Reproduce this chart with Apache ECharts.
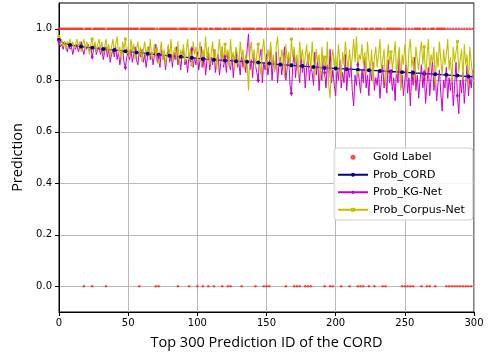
<!DOCTYPE html>
<html>
<head>
<meta charset="utf-8">
<script src="https://cdn.jsdelivr.net/npm/echarts@6/dist/echarts.min.js"></script>
<style>
  html, body { margin: 0; padding: 0; background: #fff; }
  #myChart { width: 489px; height: 355px; }
</style>
</head>
<body>
<div id="myChart"></div>
<script>
// indices (0..299) whose gold label is 0, all others are 1
var goldZeroIds = [18, 24, 34, 58, 70, 72, 86, 94, 100, 104, 108, 112, 118, 122, 124, 132, 142, 148,
  150, 152, 164, 170, 172, 174, 178, 180, 182, 192, 196, 198, 204, 210, 216, 218, 220, 224, 228,
  234, 236, 248, 250, 252, 254, 256, 262, 266, 268, 272, 280, 282, 284, 286, 288, 290, 292, 294, 296, 298];

var probCord = [
  0.957,0.952,0.948,0.945,0.943,0.941,0.940,0.938,0.937,0.936,
  0.935,0.935,0.934,0.933,0.932,0.932,0.931,0.930,0.930,0.929,
  0.928,0.928,0.927,0.927,0.926,0.925,0.925,0.924,0.923,0.923,
  0.922,0.922,0.921,0.921,0.920,0.919,0.919,0.918,0.918,0.917,
  0.917,0.916,0.916,0.915,0.915,0.914,0.914,0.913,0.913,0.912,
  0.912,0.911,0.911,0.910,0.909,0.909,0.908,0.908,0.907,0.907,
  0.906,0.905,0.905,0.904,0.903,0.903,0.902,0.902,0.901,0.900,
  0.900,0.899,0.899,0.898,0.898,0.897,0.897,0.896,0.896,0.895,
  0.895,0.894,0.894,0.893,0.893,0.892,0.892,0.891,0.891,0.890,
  0.890,0.889,0.889,0.888,0.888,0.887,0.887,0.886,0.886,0.885,
  0.885,0.885,0.884,0.884,0.883,0.883,0.882,0.882,0.882,0.881,
  0.881,0.880,0.880,0.880,0.879,0.879,0.878,0.878,0.878,0.877,
  0.877,0.877,0.876,0.876,0.876,0.875,0.875,0.875,0.874,0.874,
  0.874,0.873,0.873,0.873,0.872,0.872,0.872,0.871,0.871,0.871,
  0.871,0.870,0.870,0.869,0.869,0.868,0.868,0.867,0.867,0.866,
  0.866,0.866,0.865,0.865,0.864,0.864,0.863,0.863,0.862,0.862,
  0.861,0.861,0.860,0.860,0.859,0.859,0.859,0.858,0.858,0.857,
  0.857,0.857,0.856,0.856,0.855,0.855,0.855,0.854,0.854,0.853,
  0.853,0.853,0.852,0.852,0.851,0.851,0.851,0.850,0.850,0.849,
  0.849,0.849,0.848,0.848,0.848,0.847,0.847,0.847,0.846,0.846,
  0.846,0.846,0.845,0.845,0.845,0.844,0.844,0.844,0.843,0.843,
  0.843,0.843,0.842,0.842,0.842,0.841,0.841,0.841,0.840,0.840,
  0.840,0.840,0.839,0.839,0.839,0.838,0.838,0.838,0.837,0.837,
  0.837,0.837,0.836,0.836,0.836,0.835,0.835,0.835,0.834,0.834,
  0.834,0.834,0.833,0.833,0.833,0.832,0.832,0.832,0.831,0.831,
  0.831,0.831,0.830,0.830,0.830,0.829,0.829,0.829,0.828,0.828,
  0.828,0.827,0.827,0.827,0.826,0.826,0.825,0.825,0.825,0.824,
  0.824,0.824,0.823,0.823,0.823,0.822,0.822,0.822,0.821,0.821,
  0.821,0.820,0.820,0.820,0.819,0.819,0.818,0.818,0.818,0.817,
  0.817,0.817,0.816,0.816,0.815,0.815,0.815,0.814,0.814,0.813
];

var probKgNet = [
  0.95,0.93,0.94,0.92,0.95,0.93,0.91,0.94,0.92,0.93,
  0.90,0.93,0.92,0.94,0.91,0.93,0.95,0.92,0.90,0.93,
  0.92,0.94,0.91,0.93,0.89,0.92,0.94,0.90,0.92,0.93,
  0.90,0.92,0.88,0.91,0.93,0.89,0.92,0.87,0.90,0.92,
  0.89,0.93,0.88,0.91,0.86,0.90,0.92,0.87,0.85,0.89,
  0.91,0.88,0.92,0.87,0.90,0.93,0.88,0.86,0.91,0.89,
  0.92,0.87,0.90,0.85,0.89,0.93,0.88,0.91,0.86,0.90,
  0.94,0.87,0.89,0.85,0.92,0.88,0.90,0.84,0.89,0.93,
  0.87,0.90,0.85,0.91,0.88,0.93,0.86,0.89,0.84,0.90,
  0.92,0.86,0.88,0.83,0.90,0.87,0.92,0.85,0.89,0.86,
  0.91,0.84,0.88,0.93,0.85,0.90,0.82,0.88,0.91,0.84,
  0.89,0.86,0.92,0.83,0.88,0.90,0.82,0.87,0.93,0.85,
  0.89,0.83,0.91,0.86,0.84,0.90,0.81,0.88,0.92,0.85,
  0.87,0.82,0.90,0.85,0.88,0.83,0.92,0.98,0.84,0.88,
  0.81,0.90,0.86,0.83,0.80,0.89,0.92,0.79,0.87,0.84,
  0.90,0.82,0.86,0.93,0.80,0.88,0.84,0.91,0.79,0.86,
  0.89,0.82,0.87,0.93,0.80,0.85,0.90,0.78,0.75,0.86,
  0.91,0.81,0.88,0.84,0.79,0.90,0.83,0.87,0.77,0.85,
  0.90,0.80,0.86,0.83,0.78,0.91,0.82,0.88,0.76,0.85,
  0.80,0.89,0.83,0.77,0.86,0.81,0.92,0.79,0.84,0.78,
  0.74,0.85,0.80,0.88,0.77,0.83,0.79,0.90,0.76,0.84,
  0.81,0.87,0.76,0.70,0.82,0.78,0.86,0.80,0.75,0.84,
  0.79,0.89,0.77,0.82,0.74,0.85,0.80,0.87,0.76,0.81,
  0.78,0.84,0.73,0.80,0.86,0.77,0.82,0.75,0.88,0.79,
  0.83,0.76,0.81,0.72,0.85,0.79,0.90,0.77,0.82,0.74,
  0.80,0.86,0.75,0.81,0.70,0.84,0.78,0.89,0.76,0.82,
  0.73,0.80,0.86,0.77,0.83,0.71,0.79,0.85,0.74,0.81,
  0.88,0.76,0.82,0.72,0.79,0.84,0.75,0.68,0.80,0.77,
  0.85,0.73,0.81,0.76,0.83,0.70,0.78,0.87,0.74,0.67,
  0.80,0.75,0.83,0.71,0.79,0.86,0.74,0.81,0.77,0.84
];

var probCorpusNet = [
  0.97,0.94,0.96,0.93,0.95,0.92,0.95,0.94,0.96,0.93,
  0.95,0.92,0.94,0.96,0.93,0.95,0.91,0.94,0.96,0.92,
  0.95,0.93,0.90,0.94,0.96,0.92,0.95,0.91,0.94,0.96,
  0.92,0.95,0.90,0.93,0.96,0.91,0.94,0.89,0.93,0.96,
  0.91,0.94,0.97,0.90,0.93,0.88,0.95,0.92,0.96,0.90,
  0.93,0.89,0.96,0.91,0.94,0.88,0.92,0.95,0.90,0.93,
  0.87,0.92,0.95,0.89,0.93,0.90,0.96,0.88,0.91,0.94,
  0.89,0.93,0.87,0.91,0.95,0.88,0.92,0.86,0.90,0.94,
  0.89,0.96,0.87,0.91,0.93,0.88,0.95,0.86,0.92,0.89,
  0.94,0.87,0.91,0.96,0.88,0.92,0.86,0.95,0.90,0.93,
  0.87,0.91,0.95,0.85,0.92,0.89,0.97,0.88,0.93,0.86,
  0.90,0.95,0.87,0.92,0.84,0.91,0.96,0.88,0.93,0.86,
  0.94,0.89,0.92,0.85,0.96,0.88,0.91,0.84,0.93,0.90,
  0.86,0.95,0.89,0.92,0.84,0.90,0.87,0.76,0.91,0.95,
  0.88,0.92,0.85,0.90,0.94,0.87,0.82,0.91,0.96,0.89,
  0.84,0.92,0.88,0.95,0.86,0.90,0.83,0.93,0.97,0.88,
  0.85,0.92,0.89,0.81,0.94,0.87,0.91,0.84,0.96,0.89,
  0.93,0.86,0.90,0.82,0.95,0.88,0.92,0.85,0.89,0.94,
  0.86,0.91,0.84,0.95,0.88,0.82,0.92,0.87,0.90,0.80,
  0.93,0.86,0.89,0.84,0.95,0.78,0.73,0.88,0.92,0.85,
  0.90,0.83,0.94,0.87,0.80,0.91,0.86,0.95,0.89,0.84,
  0.92,0.85,0.89,0.96,0.87,0.97,0.83,0.90,0.88,0.94,
  0.86,0.91,0.82,0.95,0.88,0.84,0.92,0.79,0.89,0.93,
  0.85,0.90,0.96,0.83,0.88,0.92,0.78,0.87,0.94,0.86,
  0.91,0.84,0.89,0.95,0.82,0.88,0.93,0.76,0.90,0.86,
  0.94,0.87,0.81,0.92,0.96,0.85,0.89,0.79,0.93,0.88,
  0.84,0.91,0.95,0.86,0.93,0.80,0.89,0.96,0.83,0.90,
  0.87,0.93,0.78,0.91,0.85,0.95,0.88,0.82,0.92,0.86,
  0.90,0.96,0.84,0.89,0.79,0.93,0.87,0.91,0.95,0.83,
  0.88,0.92,0.80,0.94,0.86,0.90,0.78,0.93,0.87,0.82
];

var yTicks = [0.0, 0.2, 0.4, 0.6, 0.8, 1.0];

var tickFont = 'DejaVu Sans';
var gridColor = '#b8b8b8';

function toPoints(arr) {
  return arr.map(function (v, i) { return [i, v]; });
}
var goldPoints = probCord.map(function (v, i) {
  return [i, goldZeroIds.indexOf(i) >= 0 ? 0 : 1];
});

var myChart = echarts.init(document.getElementById('myChart'));
myChart.setOption({
  animation: false,
  backgroundColor: '#fff',
  grid: {
    left: 59, right: 15, top: 3, bottom: 42,
    show: true, borderColor: '#000', borderWidth: 1
  },
  legend: {
    orient: 'vertical',
    left: 334, top: 148,
    padding: [3, 8, 4, 3],
    itemWidth: 30, itemHeight: 5, itemGap: 5,
    backgroundColor: 'rgba(255,255,255,0.85)',
    borderColor: '#d0d0d0', borderWidth: 1, borderRadius: 3,
    textStyle: { fontFamily: tickFont, fontSize: 11, color: '#000', lineHeight: 12.5 },
    data: ['Gold Label', 'Prob_CORD', 'Prob_KG-Net', 'Prob_Corpus-Net']
  },
  xAxis: {
    type: 'value', min: 0, max: 300, interval: 50,
    name: 'Top 300 Prediction ID of the CORD',
    nameLocation: 'middle', nameGap: 23,
    nameTextStyle: { fontFamily: 'Open Sans', fontSize: 14.5, color: '#000' },
    axisLine: { onZero: false, lineStyle: { color: '#000' } },
    axisTick: { length: 4, lineStyle: { color: '#000' } },
    axisLabel: { fontFamily: tickFont, fontSize: 10, color: '#000', margin: 6 },
    splitLine: { show: true, lineStyle: { color: gridColor, width: 1 } }
  },
  yAxis: {
    type: 'value', min: -0.1, max: 1.1,
    name: 'Prediction',
    nameLocation: 'middle', nameGap: 32,
    nameTextStyle: { fontFamily: 'Open Sans', fontSize: 14.5, color: '#000' },
    axisLine: { show: true, onZero: false, lineStyle: { color: '#000' } },
    axisTick: { show: true, length: 4, customValues: yTicks, lineStyle: { color: '#000' } },
    axisLabel: {
      fontFamily: tickFont, fontSize: 10, color: '#000', margin: 7,
      customValues: yTicks,
      formatter: function (v) { return v.toFixed(1); }
    },
    splitLine: { show: false }
  },
  series: [
    {
      name: 'Gold Label', type: 'scatter',
      symbol: 'circle', symbolSize: 2.5,
      itemStyle: { color: '#ff2020' },
      // horizontal grid lines at the y tick values, kept under the marks
      markLine: {
        silent: true, symbol: 'none', animation: false, z: 0,
        label: { show: false },
        emphasis: { disabled: true },
        lineStyle: { color: gridColor, width: 1, type: 'solid' },
        data: yTicks.map(function (t) { return { yAxis: t }; })
      },
      data: goldPoints
    },
    {
      name: 'Prob_CORD', type: 'line',
      symbol: 'circle', showSymbol: true,
      symbolSize: function (v, p) { return p.dataIndex % 8 === 0 ? 4 : 0; },
      lineStyle: { color: '#000080', width: 1.3 },
      itemStyle: { color: '#000080' },
      data: toPoints(probCord)
    },
    {
      name: 'Prob_KG-Net', type: 'line',
      symbol: 'diamond', showSymbol: true,
      symbolSize: function (v, p) { return p.dataIndex % 24 === 0 ? [3, 6] : 0; },
      lineStyle: { color: '#cc00cc', width: 1 },
      itemStyle: { color: '#cc00cc' },
      data: toPoints(probKgNet)
    },
    {
      name: 'Prob_Corpus-Net', type: 'line',
      symbol: 'rect', showSymbol: true,
      symbolSize: function (v, p) { return p.dataIndex % 24 === 0 ? 3 : 0; },
      lineStyle: { color: '#c4c000', width: 1.1 },
      itemStyle: { color: '#c4c000' },
      data: toPoints(probCorpusNet)
    }
  ]
});
</script>
</body>
</html>
